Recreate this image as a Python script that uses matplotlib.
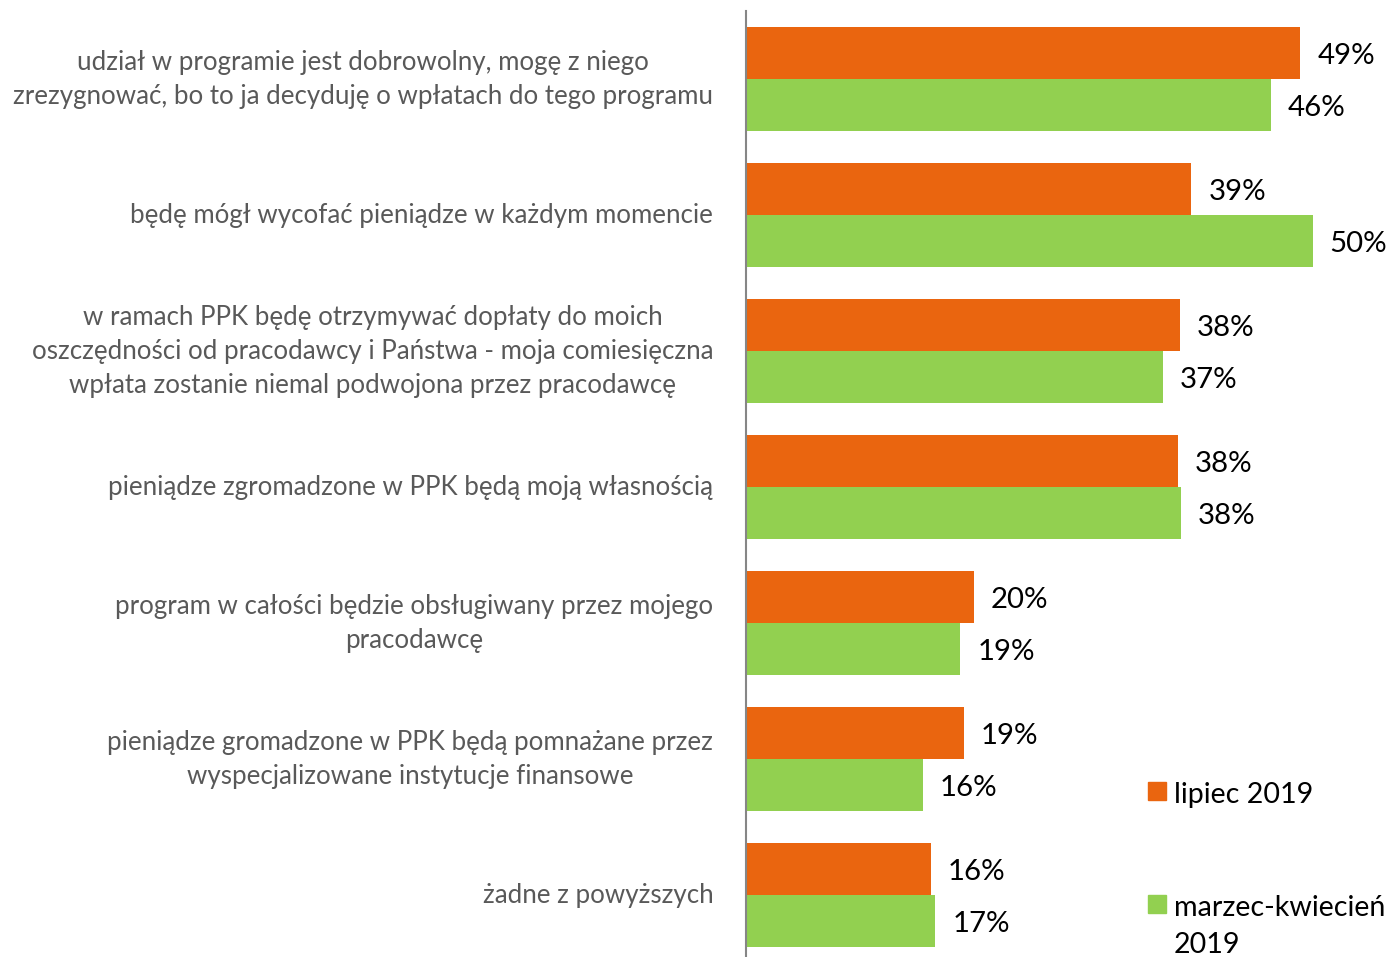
import matplotlib
matplotlib.use("Agg")
import matplotlib.pyplot as plt
from matplotlib.patches import Rectangle

categories = [
    "udział w programie jest dobrowolny, mogę z niego\nzrezygnować, bo to ja decyduję o wpłatach do tego programu",
    "będę mógł wycofać pieniądze w każdym momencie",
    "w ramach PPK będę otrzymywać dopłaty do moich\noszczędności od pracodawcy i Państwa - moja comiesięczna\nwpłata zostanie niemal podwojona przez pracodawcę",
    "pieniądze zgromadzone w PPK będą moją własnością",
    "program w całości będzie obsługiwany przez mojego\npracodawcę",
    "pieniądze gromadzone w PPK będą pomnażane przez\nwyspecjalizowane instytucje finansowe",
    "żadne z powyższych",
]
lipiec_2019 = [48.9, 39.3, 38.3, 38.1, 20.1, 19.2, 16.3]
marzec_kwiecien_2019 = [46.3, 50.0, 36.8, 38.4, 18.9, 15.6, 16.7]
lipiec_labels = ["49%", "39%", "38%", "38%", "20%", "19%", "16%"]
marzec_labels = ["46%", "50%", "37%", "38%", "19%", "16%", "17%"]
series_names = ["lipiec 2019", "marzec-kwiecień\n2019"]

ORANGE = "#EA650F"
GREEN = "#92D050"
FONT = "Lato"

W, H = 1396, 957
fig = plt.figure(figsize=(W / 100, H / 100), dpi=100)
ax_left = 746 / W
ax_top = 1 - 11 / H
ax_bottom = 1 - 963 / H
ax = fig.add_axes([ax_left, ax_bottom, 646 / W, ax_top - ax_bottom])

n = len(categories)
bar_h = 52 / 136
dy = 3 / 136  # small downward nudge of value labels
ys = list(range(n))
for i in ys:
    ax.barh(i - bar_h / 2, lipiec_2019[i], height=bar_h, color=ORANGE, edgecolor="none")
    ax.barh(i + bar_h / 2, marzec_kwiecien_2019[i], height=bar_h, color=GREEN, edgecolor="none")
    ax.text(lipiec_2019[i] + 1.5, i - bar_h / 2 + dy, lipiec_labels[i], va="center", ha="left",
            fontsize=21.2, family=FONT, color="black")
    ax.text(marzec_kwiecien_2019[i] + 1.5, i + bar_h / 2 + dy, marzec_labels[i], va="center", ha="left",
            fontsize=21.2, family=FONT, color="black")
    ax.text(-2.9, i, categories[i], va="center", ha="right", multialignment="center",
            fontsize=18.6, family=FONT, color="#595959", linespacing=1.45)

ax.set_xlim(0, 57)
ax.set_ylim(n - 0.5, -0.5)
ax.set_xticks([])
ax.set_yticks([])
for s in ["top", "right", "bottom"]:
    ax.spines[s].set_visible(False)
ax.spines["left"].set_color("#868686")
ax.spines["left"].set_linewidth(1.5)

# legend drawn manually
sq = 18
for (yc, col, name) in [(790.5, ORANGE, series_names[0]), (904, GREEN, series_names[1])]:
    fig.patches.append(Rectangle((1148 / W, 1 - (yc + sq / 2) / H), sq / W, sq / H,
                                 transform=fig.transFigure, color=col))
    for k, line in enumerate(name.split("\n")):
        fig.text(1174 / W, 1 - (yc + 12 + 37 * k) / H, line, va="baseline", ha="left",
                 fontsize=20.6, family=FONT, color="black")

fig.savefig("out.png", dpi=100)
